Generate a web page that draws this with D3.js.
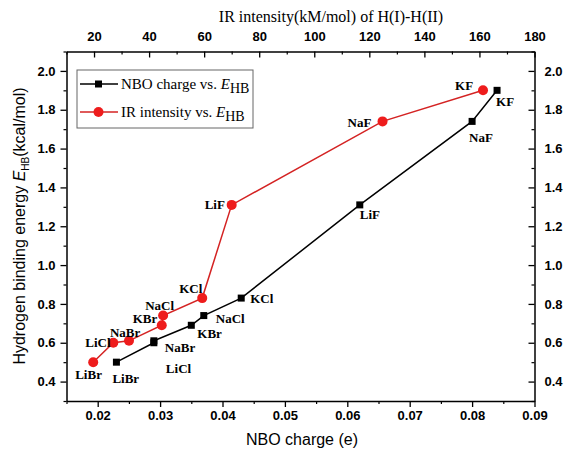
<!DOCTYPE html>
<html>
<head>
<meta charset="utf-8">
<script src="https://cdn.jsdelivr.net/npm/d3@7"></script>
<style>
  html, body { margin: 0; padding: 0; background: #fff; }
  svg { display: block; }
</style>
</head>
<body>
<svg id="chart" width="565" height="452"></svg>
<script>
// ---- data ----
const categories  = ["LiBr", "LiCl", "NaBr", "KBr", "NaCl", "KCl", "LiF", "NaF", "KF"];
const energyHB    = [0.50, 0.60, 0.61, 0.69, 0.74, 0.83, 1.31, 1.74, 1.90];
const nboCharge   = [0.023, 0.029, 0.029, 0.035, 0.037, 0.043, 0.062, 0.080, 0.084];
const irIntensity = [19.7, 27.0, 32.7, 44.6, 45.1, 59.3, 70.0, 124.8, 161.3];

const nboTicks    = [0.02, 0.03, 0.04, 0.05, 0.06, 0.07, 0.08, 0.09];
const nboMinor    = [0.015, 0.025, 0.035, 0.045, 0.055, 0.065, 0.075, 0.085];
const irTicks     = [20, 40, 60, 80, 100, 120, 140, 160, 180];
const irMinor     = [10, 30, 50, 70, 90, 110, 130, 150, 170];
const energyTicks = [0.4, 0.6, 0.8, 1.0, 1.2, 1.4, 1.6, 1.8, 2.0];
const energyMinor = [0.3, 0.5, 0.7, 0.9, 1.1, 1.3, 1.5, 1.7, 1.9, 2.1];

// label offsets (text start, baseline) relative to each marker
const nboLabelOffset = {
  LiBr: [-4, 21], LiCl: [12, 30], NaBr: [11, 11], KBr: [6, 13], NaCl: [12, 7],
  KCl: [9, 5], LiF: [0, 14], NaF: [-3, 21], KF: [-1, 16]
};
const irLabelOffset = {
  LiBr: [-18, 17], LiCl: [-28, 4], NaBr: [-19, -4], KBr: [-29, -2], NaCl: [-18, -6],
  KCl: [-23, -5], LiF: [-27, 4], NaF: [-35, 6], KF: [-28, 0]
};

// ---- layout ----
const L = 66.5, R = 534.5, T = 51.5, B = 401;
const RED = "#ee1c1c", RED_LINE = "#d42323";
const SANS = "'Liberation Sans', Arial, sans-serif";
const SERIF = "'Liberation Serif', 'Times New Roman', serif";

const svg = d3.select("#chart");

const x  = d3.scaleLinear().domain([0.015, 0.09]).range([L, R]);
const x2 = d3.scaleLinear().domain([10, 180]).range([L, R]);
const y  = d3.scaleLinear().domain([0.3, 2.1]).range([B, T]);

function styleAxis(g, weight) {
  g.select(".domain").attr("stroke", "#000").attr("stroke-width", 1.5);
  g.selectAll(".tick line").attr("stroke", "#000").attr("stroke-width", 1.3);
  g.selectAll(".tick text").attr("fill", "#000")
    .style("font-family", SANS).style("font-size", "13px").style("font-weight", weight);
}
function minor(g) {
  g.select(".domain").remove();
  g.selectAll(".tick line").attr("stroke", "#000").attr("stroke-width", 1.2);
  g.selectAll(".tick text").remove();
}

// bottom axis (outward ticks)
svg.append("g").attr("transform", `translate(0,${B})`)
  .call(d3.axisBottom(x).tickValues(nboMinor).tickSize(3).tickFormat(""))
  .call(minor);
svg.append("g").attr("transform", `translate(0,${B})`)
  .call(d3.axisBottom(x).tickValues(nboTicks).tickSize(6).tickSizeOuter(0)
        .tickPadding(4).tickFormat(d3.format(".2f")))
  .call(g => styleAxis(g, "bold"));

// top axis (inward ticks)
svg.append("g").attr("transform", `translate(0,${T})`)
  .call(d3.axisTop(x2).tickValues(irMinor).tickSize(-3).tickFormat(""))
  .call(minor);
svg.append("g").attr("transform", `translate(0,${T})`)
  .call(d3.axisTop(x2).tickValues(irTicks).tickSize(-6).tickSizeOuter(0)
        .tickPadding(11).tickFormat(d3.format("d")))
  .call(g => styleAxis(g, "bold"));

// left axis (outward)
svg.append("g").attr("transform", `translate(${L},0)`)
  .call(d3.axisLeft(y).tickValues(energyMinor).tickSize(3).tickFormat(""))
  .call(minor);
svg.append("g").attr("transform", `translate(${L},0)`)
  .call(d3.axisLeft(y).tickValues(energyTicks).tickSize(6).tickSizeOuter(0)
        .tickPadding(5).tickFormat(d3.format(".1f")))
  .call(g => styleAxis(g, "bold"));

// right axis (inward)
svg.append("g").attr("transform", `translate(${R},0)`)
  .call(d3.axisRight(y).tickValues(energyMinor).tickSize(-3).tickFormat(""))
  .call(minor);
svg.append("g").attr("transform", `translate(${R},0)`)
  .call(d3.axisRight(y).tickValues(energyTicks).tickSize(-6).tickSizeOuter(0)
        .tickPadding(10).tickFormat(d3.format(".1f")))
  .call(g => styleAxis(g, "bold"));

// axis titles
svg.append("text").attr("x", 302).attr("y", 445).attr("text-anchor", "middle")
  .style("font-family", SANS).style("font-size", "16px").text("NBO charge (e)");

svg.append("text").attr("x", 331).attr("y", 22).attr("text-anchor", "middle")
  .style("font-family", SERIF).style("font-size", "16px")
  .text("IR intensity(kM/mol) of H(I)-H(II)");

const yl = svg.append("text")
  .attr("transform", "translate(25,226) rotate(-90)")
  .attr("text-anchor", "middle")
  .style("font-family", SANS).style("font-size", "16px");
yl.append("tspan").text("Hydrogen binding energy ");
yl.append("tspan").style("font-style", "italic").text("E");
yl.append("tspan").attr("dy", 4).style("font-size", "10px").text("HB");
yl.append("tspan").attr("dy", -4).text("(kcal/mol)");

// ---- data series ----
const idx = d3.range(categories.length);

// black: NBO charge vs E_HB
svg.append("path")
  .datum(idx)
  .attr("fill", "none").attr("stroke", "#000").attr("stroke-width", 1.5)
  .attr("d", d3.line().x(i => x(nboCharge[i])).y(i => y(energyHB[i])));

// red: IR intensity vs E_HB
svg.append("path")
  .datum(idx)
  .attr("fill", "none").attr("stroke", RED_LINE).attr("stroke-width", 1.5)
  .attr("d", d3.line().x(i => x2(irIntensity[i])).y(i => y(energyHB[i])));

svg.append("g").selectAll("rect").data(idx).join("rect")
  .attr("x", i => x(nboCharge[i]) - 3.5).attr("y", i => y(energyHB[i]) - 3.5)
  .attr("width", 7).attr("height", 7).attr("fill", "#000");

svg.append("g").selectAll("circle").data(idx).join("circle")
  .attr("cx", i => x2(irIntensity[i])).attr("cy", i => y(energyHB[i]))
  .attr("r", 5).attr("fill", RED);

// point labels
svg.append("g").selectAll("text").data(idx).join("text")
  .attr("x", i => x(nboCharge[i]) + nboLabelOffset[categories[i]][0])
  .attr("y", i => y(energyHB[i]) + nboLabelOffset[categories[i]][1])
  .style("font-family", SERIF).style("font-size", "13px").style("font-weight", "bold")
  .text(i => categories[i]);

svg.append("g").selectAll("text").data(idx).join("text")
  .attr("x", i => x2(irIntensity[i]) + irLabelOffset[categories[i]][0])
  .attr("y", i => y(energyHB[i]) + irLabelOffset[categories[i]][1])
  .style("font-family", SERIF).style("font-size", "13px").style("font-weight", "bold")
  .text(i => categories[i]);

// ---- legend ----
const lg = svg.append("g");
lg.append("rect").attr("x", 77).attr("y", 70).attr("width", 176).attr("height", 58)
  .attr("fill", "#fff").attr("stroke", "#666").attr("stroke-width", 1);

const legendItems = [
  { label: "NBO charge vs. ", color: "#000", marker: "square", cy: 84 },
  { label: "IR intensity vs. ", color: RED_LINE, marker: "circle", cy: 112 }
];
legendItems.forEach(it => {
  lg.append("line").attr("x1", 80).attr("x2", 118).attr("y1", it.cy).attr("y2", it.cy)
    .attr("stroke", it.color).attr("stroke-width", 1.5);
  if (it.marker === "square") {
    lg.append("rect").attr("x", 95).attr("y", it.cy - 3.5).attr("width", 7).attr("height", 7).attr("fill", "#000");
  } else {
    lg.append("circle").attr("cx", 98.5).attr("cy", it.cy).attr("r", 5).attr("fill", RED);
  }
  const t = lg.append("text").attr("x", 121).attr("y", it.cy + 5)
    .style("font-family", SERIF).style("font-size", "15px");
  t.append("tspan").text(it.label);
  t.append("tspan").style("font-style", "italic").text("E");
  t.append("tspan").attr("dy", 4).style("font-size", "14px").text("HB");
});
</script>
</body>
</html>
